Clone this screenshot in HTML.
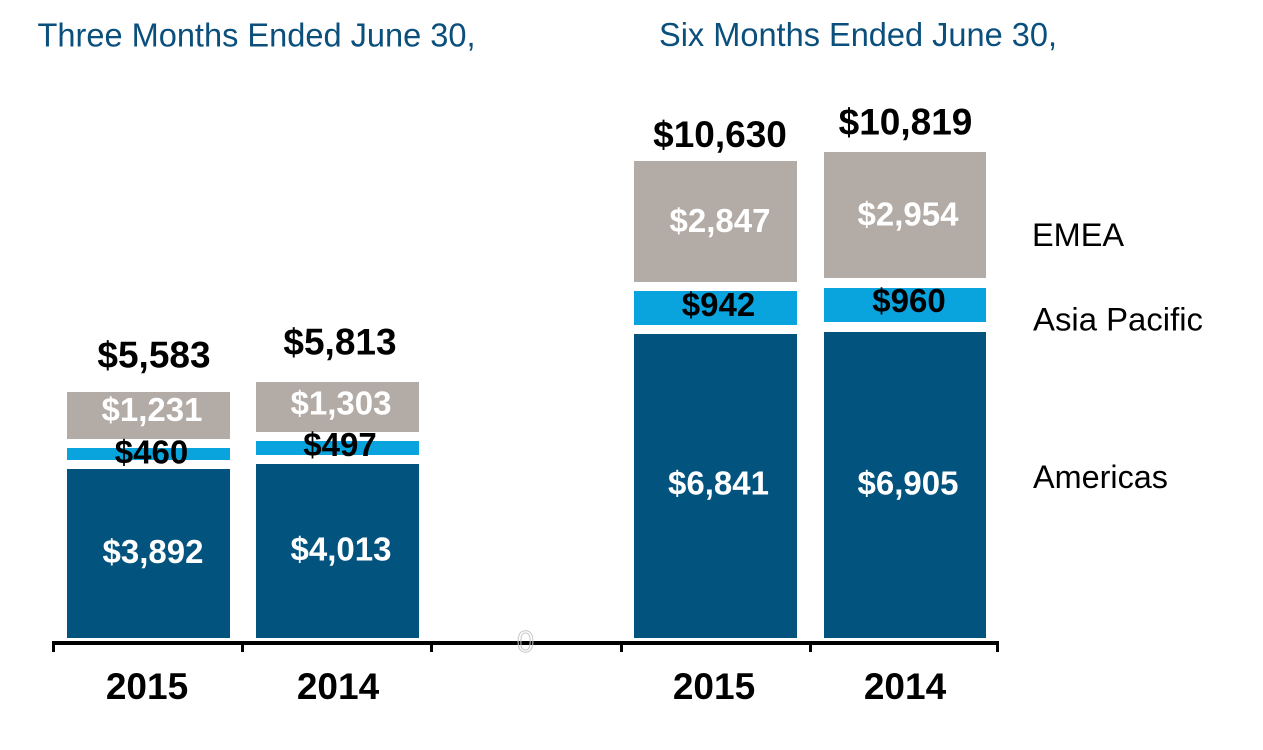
<!DOCTYPE html>
<html>
<head>
<meta charset="utf-8">
<style>
  html,body{margin:0;padding:0;background:#fff;}
  body{width:1263px;height:750px;overflow:hidden;}
  svg{display:block;}
  text{font-family:"Liberation Sans", Arial, sans-serif;}
  .tot{font-size:37px;font-weight:bold;fill:#000;text-anchor:middle;}
  .seg{font-size:33px;font-weight:bold;fill:#fff;text-anchor:middle;}
  .segb{font-size:33px;font-weight:bold;fill:#000;text-anchor:middle;}
  .yr{font-size:37px;font-weight:bold;fill:#000;text-anchor:middle;}
  .ttl{font-size:33px;fill:#0b4f7c;}
  .leg{font-size:32px;fill:#000;}
</style>
</head>
<body>
<svg width="1263" height="750" viewBox="0 0 1263 750" xmlns="http://www.w3.org/2000/svg">
  <!-- titles -->
  <text class="ttl" x="37.5" y="46.5" textLength="438" lengthAdjust="spacingAndGlyphs">Three Months Ended June 30,</text>
  <text class="ttl" x="659" y="46" textLength="398" lengthAdjust="spacingAndGlyphs">Six Months Ended June 30,</text>

  <!-- Bar 1: 3mo 2015 -->
  <rect x="67" y="392" width="163" height="47" fill="#b3aba6"/>
  <rect x="67" y="448" width="163" height="12" fill="#09a3de"/>
  <rect x="67" y="469" width="163" height="169" fill="#03537f"/>
  <!-- Bar 2: 3mo 2014 -->
  <rect x="256" y="382" width="163" height="50" fill="#b3aba6"/>
  <rect x="256" y="441" width="163" height="14" fill="#09a3de"/>
  <rect x="256" y="464" width="163" height="174" fill="#03537f"/>
  <!-- Bar 3: 6mo 2015 -->
  <rect x="634" y="161" width="163" height="121" fill="#b3aba6"/>
  <rect x="634" y="291" width="163" height="34" fill="#09a3de"/>
  <rect x="634" y="334" width="163" height="304" fill="#03537f"/>
  <!-- Bar 4: 6mo 2014 -->
  <rect x="824" y="152" width="162" height="126" fill="#b3aba6"/>
  <rect x="824" y="288" width="162" height="34" fill="#09a3de"/>
  <rect x="824" y="332" width="162" height="306" fill="#03537f"/>

  <!-- axis -->
  <rect x="52" y="641" width="947" height="4" fill="#000"/>
  <rect x="52" y="641" width="3" height="11" fill="#000"/>
  <rect x="241" y="641" width="3" height="11" fill="#000"/>
  <rect x="430" y="641" width="3" height="11" fill="#000"/>
  <rect x="620" y="641" width="3" height="11" fill="#000"/>
  <rect x="809" y="641" width="3" height="11" fill="#000"/>
  <rect x="996" y="641" width="3" height="11" fill="#000"/>

  <!-- zero -->
  <text x="525.5" y="652" font-size="31" text-anchor="middle" fill="none" stroke="#c8c8c8" stroke-width="1">0</text>

  <!-- totals -->
  <text class="tot" x="154" y="367.5">$5,583</text>
  <text class="tot" x="340" y="354.5">$5,813</text>
  <text class="tot" x="720" y="147">$10,630</text>
  <text class="tot" x="905.5" y="134.5">$10,819</text>

  <!-- EMEA -->
  <text class="seg" x="152" y="421">$1,231</text>
  <text class="seg" x="341" y="414.5">$1,303</text>
  <text class="seg" x="720" y="232">$2,847</text>
  <text class="seg" x="908" y="225.5">$2,954</text>

  <!-- Asia Pacific -->
  <text class="segb" x="151.5" y="463.5">$460</text>
  <text class="segb" x="340" y="456">$497</text>
  <text class="segb" x="718.5" y="316">$942</text>
  <text class="segb" x="909" y="312">$960</text>

  <!-- Americas -->
  <text class="seg" x="153" y="563">$3,892</text>
  <text class="seg" x="341" y="560.5">$4,013</text>
  <text class="seg" x="718.5" y="494.5">$6,841</text>
  <text class="seg" x="908" y="494.5">$6,905</text>

  <!-- years -->
  <text class="yr" x="147" y="699">2015</text>
  <text class="yr" x="338" y="699">2014</text>
  <text class="yr" x="714" y="699">2015</text>
  <text class="yr" x="905" y="699">2014</text>

  <!-- legend labels -->
  <text class="leg" x="1032" y="246" textLength="92" lengthAdjust="spacingAndGlyphs">EMEA</text>
  <text class="leg" x="1033" y="330.5" textLength="170" lengthAdjust="spacingAndGlyphs">Asia Pacific</text>
  <text class="leg" x="1033" y="488" textLength="135" lengthAdjust="spacingAndGlyphs">Americas</text>
</svg>
</body>
</html>
